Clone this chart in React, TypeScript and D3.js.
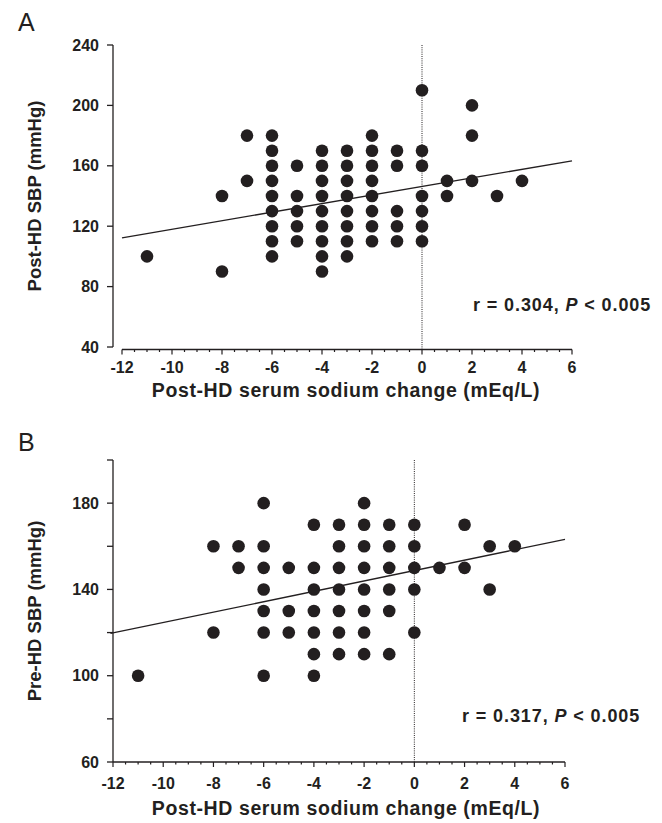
import React from "react";
import * as d3 from "d3";

// Panel A: Post-HD SBP vs post-HD serum sodium change
const aX: number[] = [
  -11, -8, -8, -7, -7,
  -6, -6, -6, -6, -6, -6, -6, -6, -6,
  -5, -5, -5, -5, -5,
  -4, -4, -4, -4, -4, -4, -4, -4, -4,
  -3, -3, -3, -3, -3, -3, -3, -3,
  -2, -2, -2, -2, -2, -2, -2, -2,
  -1, -1, -1, -1, -1,
  0, 0, 0, 0, 0, 0, 0,
  1, 1, 2, 2, 2, 3, 4,
];
const aY: number[] = [
  100, 140, 90, 180, 150,
  100, 110, 120, 130, 140, 150, 160, 170, 180,
  160, 140, 130, 120, 110,
  170, 160, 150, 140, 130, 120, 110, 100, 90,
  170, 160, 150, 140, 130, 120, 110, 100,
  180, 170, 160, 150, 140, 130, 120, 110,
  170, 160, 130, 120, 110,
  210, 170, 160, 140, 130, 120, 110,
  150, 140, 200, 180, 150, 140, 150,
];

// Panel B: Pre-HD SBP vs post-HD serum sodium change
const bX: number[] = [
  -11, -8, -8, -7, -7,
  -6, -6, -6, -6, -6, -6, -6,
  -5, -5, -5,
  -4, -4, -4, -4, -4, -4, -4,
  -3, -3, -3, -3, -3, -3, -3,
  -2, -2, -2, -2, -2, -2, -2, -2,
  -1, -1, -1, -1, -1, -1,
  0, 0, 0, 0, 0,
  1, 2, 2, 3, 3, 4,
];
const bY: number[] = [
  100, 160, 120, 160, 150,
  180, 160, 150, 140, 130, 120, 100,
  150, 130, 120,
  170, 150, 140, 130, 120, 110, 100,
  170, 160, 150, 140, 130, 120, 110,
  180, 170, 160, 150, 140, 130, 120, 110,
  170, 160, 150, 140, 130, 110,
  170, 160, 150, 140, 120,
  150, 170, 150, 160, 140, 160,
];

// Regression line endpoints [x, y]
const aFitX: number[] = [-12, 6];
const aFitY: number[] = [112.3, 163.3];
const bFitX: number[] = [-12.1, 6];
const bFitY: number[] = [119.6, 163.2];

const xTicks: number[] = [-12, -10, -8, -6, -4, -2, 0, 2, 4, 6];
const aYTicks: number[] = [40, 80, 120, 160, 200, 240];
const bYTicksMajor: number[] = [60, 100, 140, 180];
const bYTicksAll: number[] = [60, 80, 100, 120, 140, 160, 180, 200];

const INK = "#231f20";
const FONT = "Liberation Sans, Arial, Helvetica, sans-serif";

type PanelProps = {
  letter: string;
  letterY: number;
  xRange: [number, number];
  yDomain: [number, number];
  yRange: [number, number];
  yAxisX: number;
  xAxisY: number;
  xLabelGap: number;
  xTitleGap: number;
  yTicksAll: number[];
  yTicksLabeled: number[];
  xs: number[];
  ys: number[];
  fitX: number[];
  fitY: number[];
  yTitle: string;
  rText: string;
  rX: number;
  rY: number;
};

function Panel(p: PanelProps) {
  const x = d3.scaleLinear().domain([-12, 6]).range(p.xRange);
  const y = d3.scaleLinear().domain(p.yDomain).range(p.yRange);
  const minor = d3.range(-12, 6.001, 0.5);
  const line = d3
    .line<number>()
    .x((_, i) => x(p.fitX[i]))
    .y((d) => y(d));
  const yTop = y(p.yDomain[1]);
  const yBot = y(p.yDomain[0]);
  const yMid = (yTop + yBot) / 2;
  return (
    <g>
      <text x={18} y={p.letterY} fontSize={25} fontFamily={FONT} fill={INK}>
        {p.letter}
      </text>
      {/* y axis */}
      <line x1={p.yAxisX} x2={p.yAxisX} y1={yTop} y2={yBot} stroke={INK} strokeWidth={1.3} />
      {p.yTicksAll.map((t) => (
        <line key={"yt" + t} x1={p.yAxisX - 6} x2={p.yAxisX} y1={y(t)} y2={y(t)} stroke={INK} strokeWidth={1.3} />
      ))}
      {p.yTicksLabeled.map((t) => (
        <text
          key={"yl" + t}
          x={p.yAxisX - 14}
          y={y(t)}
          dy="0.35em"
          textAnchor="end"
          fontSize={16}
          fontWeight="bold"
          fontFamily={FONT}
          fill={INK}
        >
          {t}
        </text>
      ))}
      <text
        transform={`translate(35,${yMid}) rotate(-90)`}
        textAnchor="middle"
        dy="0.35em"
        fontSize={18.5}
        fontWeight="bold"
        fontFamily={FONT}
        fill={INK}
      >
        {p.yTitle}
      </text>
      {/* x axis */}
      <line x1={x(-12)} x2={x(6)} y1={p.xAxisY} y2={p.xAxisY} stroke={INK} strokeWidth={1.3} />
      {minor.map((t) => (
        <line
          key={"xm" + t}
          x1={x(t)}
          x2={x(t)}
          y1={p.xAxisY}
          y2={p.xAxisY + (Number.isInteger(t / 2) ? 5 : 2.5)}
          stroke={INK}
          strokeWidth={1.2}
        />
      ))}
      {xTicks.map((t) => (
        <text
          key={"xl" + t}
          x={x(t)}
          y={p.xAxisY + p.xLabelGap}
          dy="0.35em"
          textAnchor="middle"
          fontSize={16}
          fontWeight="bold"
          fontFamily={FONT}
          fill={INK}
        >
          {t}
        </text>
      ))}
      <text
        x={346}
        y={p.xAxisY + p.xTitleGap}
        dy="0.35em"
        textAnchor="middle"
        fontSize={19.5}
        letterSpacing={0.6}
        fontWeight="bold"
        fontFamily={FONT}
        fill={INK}
      >
        Post-HD serum sodium change (mEq/L)
      </text>
      {/* zero reference line */}
      <line
        x1={x(0)}
        x2={x(0)}
        y1={yTop}
        y2={p.xAxisY}
        stroke={INK}
        strokeWidth={1}
        strokeDasharray="1,1.2"
      />
      {/* regression line */}
      <path d={line(p.fitY) || ""} fill="none" stroke={INK} strokeWidth={1.3} />
      {/* points */}
      {p.xs.map((v, i) => (
        <circle key={"pt" + i} cx={x(v)} cy={y(p.ys[i])} r={6.3} fill={INK} />
      ))}
      {/* correlation annotation */}
      <text
        x={p.rX}
        y={p.rY}
        dy="0.35em"
        textAnchor="start"
        fontSize={18}
        letterSpacing={0.9}
        fontWeight="bold"
        fontFamily={FONT}
        fill={INK}
      >
        {p.rText}
        <tspan fontStyle="italic">P</tspan>
        {" < 0.005"}
      </text>
    </g>
  );
}

export default function App() {
  return (
    <svg
      width={662}
      height={823}
      style={{ position: "absolute", left: 0, top: 0, background: "#fff" }}
    >
      <rect width={662} height={823} fill="#fff" />
      <Panel
        letter="A"
        letterY={31}
        xRange={[122, 572]}
        yDomain={[40, 240]}
        yRange={[347, 45]}
        yAxisX={113}
        xAxisY={349.5}
        xLabelGap={18}
        xTitleGap={41}
        yTicksAll={aYTicks}
        yTicksLabeled={aYTicks}
        xs={aX}
        ys={aY}
        fitX={aFitX}
        fitY={aFitY}
        yTitle="Post-HD SBP (mmHg)"
        rText="r = 0.304, "
        rX={473}
        rY={305}
      />
      <Panel
        letter="B"
        letterY={451}
        xRange={[113, 565]}
        yDomain={[60, 200]}
        yRange={[762, 460]}
        yAxisX={113}
        xAxisY={762}
        xLabelGap={21}
        xTitleGap={46}
        yTicksAll={bYTicksAll}
        yTicksLabeled={bYTicksMajor}
        xs={bX}
        ys={bY}
        fitX={bFitX}
        fitY={bFitY}
        yTitle="Pre-HD SBP (mmHg)"
        rText="r = 0.317, "
        rX={462}
        rY={716}
      />
    </svg>
  );
}
